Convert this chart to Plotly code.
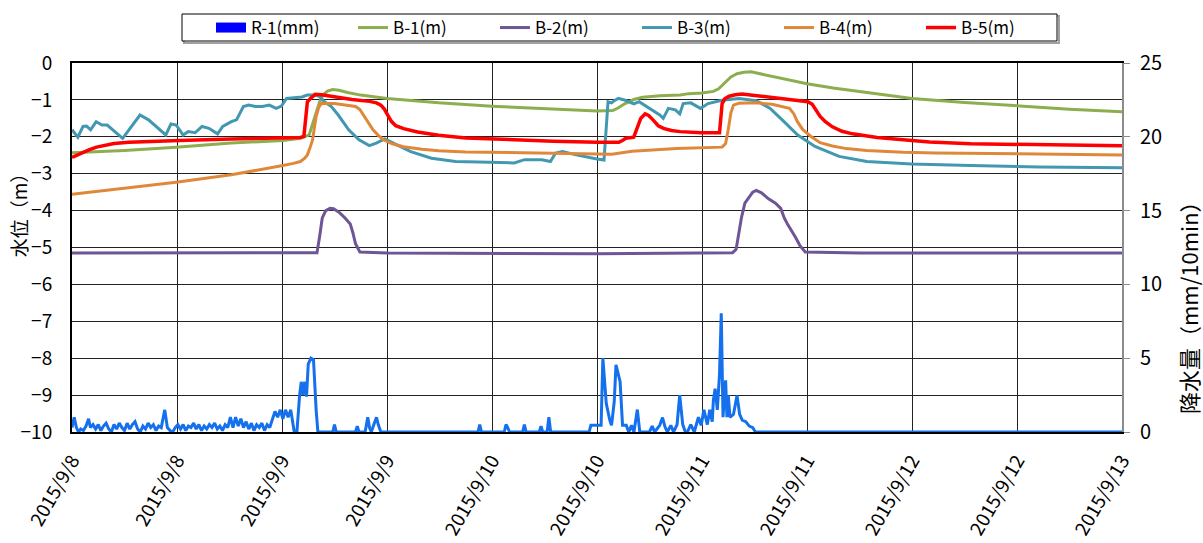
import pandas as pd
import plotly.graph_objects as go

# ---- data: elapsed hours from 2015-09-08 00:00 ----
START = pd.Timestamp("2015-09-08 00:00")

b1_h = [0.0, 6.0, 11.9, 18.2, 24.1, 26.1, 27.1, 27.5, 27.9, 28.3, 28.7, 29.2, 29.8, 30.5, 31.5,
        33.0, 36.0, 41.9, 48.0, 54.0, 60.0, 61.8, 62.4, 63.2, 64.2, 65.2, 67.2, 69.5, 70.5, 72.0,
        73.3, 73.9, 74.6, 75.3, 76.0, 76.8, 77.6, 78.6, 80.0, 82.0, 84.0, 87.0, 90.0, 96.0, 102.0,
        108.0, 114.0, 120.0]
b1_v = [-2.43, -2.37, -2.28, -2.17, -2.10, -2.04, -1.95, -1.65, -1.30, -1.05, -0.86, -0.76, -0.72,
        -0.74, -0.80, -0.87, -0.96, -1.08, -1.17, -1.24, -1.30, -1.29, -1.22, -1.10, -0.99, -0.93,
        -0.89, -0.87, -0.83, -0.81, -0.77, -0.70, -0.55, -0.38, -0.29, -0.25, -0.24, -0.29, -0.38,
        -0.47, -0.56, -0.68, -0.78, -0.96, -1.07, -1.17, -1.25, -1.32]

b2_h = [0.0, 28.0, 28.3, 28.6, 29.0, 29.5, 29.9, 30.6, 31.2, 31.8, 32.1, 32.4, 32.9, 36.0, 60.0,
        75.5, 75.9, 76.2, 76.5, 76.9, 77.4, 77.8, 78.2, 78.8, 79.6, 80.4, 81.0, 81.4, 81.8, 82.3,
        82.7, 83.2, 83.8, 90.0, 120.0]
b2_v = [-5.15, -5.14, -4.70, -4.20, -4.00, -3.94, -3.95, -4.06, -4.20, -4.36, -4.60, -4.90, -5.12,
        -5.15, -5.17, -5.14, -5.05, -4.60, -4.20, -3.80, -3.64, -3.50, -3.45, -3.52, -3.68, -3.80,
        -3.94, -4.20, -4.38, -4.56, -4.73, -4.95, -5.12, -5.15, -5.15]

b3_h = [0.0, 0.67, 1.26, 1.66, 2.13, 2.76, 3.43, 4.02, 5.79, 6.78, 7.77, 8.75, 10.72, 11.31, 11.90,
        12.69, 13.28, 14.07, 14.86, 15.65, 16.64, 17.23, 18.21, 18.80, 19.59, 20.18, 20.97, 21.76,
        22.55, 23.34, 23.93, 24.52, 25.70, 26.29, 26.88, 27.67, 28.26, 28.85, 29.64, 30.43, 31.62,
        32.80, 33.98, 34.77, 35.75, 37.13, 38.71, 41.08, 43.84, 47.78, 50.54, 51.72, 53.69, 54.68,
        55.27, 56.06, 57.63, 60.0, 60.8, 61.26, 61.66, 61.97, 62.44, 63.23, 64.22, 64.81, 65.99,
        67.17, 67.57, 68.16, 68.95, 69.46, 69.85, 70.72, 71.83, 72.69, 74.27, 76.24, 78.21, 79.79,
        81.37, 82.94, 84.91, 87.67, 90.83, 95.95, 102.65, 110.54, 120.0]
b3_v = [-1.81, -2.01, -1.72, -1.71, -1.81, -1.59, -1.68, -1.68, -2.04, -1.72, -1.41, -1.54, -1.95,
        -1.65, -1.68, -1.95, -1.86, -1.89, -1.72, -1.77, -1.92, -1.72, -1.59, -1.54, -1.18, -1.14,
        -1.18, -1.18, -1.14, -1.23, -1.17, -0.96, -0.93, -0.92, -0.87, -0.87, -0.90, -1.05, -1.18,
        -1.41, -1.81, -2.08, -2.24, -2.17, -2.06, -2.22, -2.40, -2.58, -2.67, -2.69, -2.71, -2.62,
        -2.62, -2.67, -2.44, -2.40, -2.49, -2.60, -2.63, -1.05, -1.08, -1.02, -0.96, -1.01, -1.11,
        -1.05, -1.23, -1.41, -1.50, -1.23, -1.27, -1.38, -1.10, -1.08, -1.23, -1.10, -1.01, -0.96,
        -1.02, -1.23, -1.59, -1.95, -2.26, -2.53, -2.67, -2.74, -2.78, -2.82, -2.84]

b4_h = [0.0, 6.0, 11.9, 18.2, 22.0, 24.1, 25.3, 26.1, 26.6, 26.9, 27.2, 27.5, 27.7, 27.9, 28.2,
        28.5, 30.0, 31.5, 32.4, 32.9, 33.4, 33.9, 34.4, 35.0, 35.6, 36.6, 37.9, 40.0, 41.9, 45.0,
        49.7, 55.0, 61.7, 64.0, 69.1, 74.3, 74.7, 75.0, 75.3, 75.6, 76.2, 78.2, 80.0, 82.0, 82.5,
        82.9, 83.5, 84.5, 85.5, 86.9, 88.5, 90.8, 95.0, 98.7, 108.0, 120.0]
b4_v = [-3.56, -3.40, -3.23, -3.03, -2.88, -2.78, -2.72, -2.67, -2.58, -2.49, -2.30, -2.08, -1.75,
        -1.45, -1.20, -1.10, -1.10, -1.14, -1.18, -1.26, -1.45, -1.65, -1.81, -1.96, -2.08, -2.19,
        -2.27, -2.34, -2.38, -2.41, -2.43, -2.45, -2.47, -2.39, -2.32, -2.28, -2.18, -1.80, -1.35,
        -1.14, -1.09, -1.08, -1.12, -1.23, -1.38, -1.59, -1.80, -2.00, -2.16, -2.25, -2.32, -2.37,
        -2.42, -2.44, -2.47, -2.49]

b5_h = [0.0, 0.6, 1.3, 2.0, 2.8, 3.8, 4.8, 6.5, 8.4, 12.3, 18.2, 24.0, 26.1, 26.5, 26.75, 26.9,
        27.3, 27.8, 28.5, 30.0, 32.0, 34.0, 34.8, 35.3, 35.7, 36.1, 36.5, 37.0, 37.9, 39.5, 41.9,
        45.0, 49.7, 55.0, 60.0, 62.5, 62.9, 63.3, 64.2, 64.6, 65.0, 65.5, 65.9, 66.4, 67.0, 67.6,
        68.5, 69.5, 71.9, 74.0, 74.15, 74.3, 74.6, 75.1, 75.8, 76.6, 78.0, 79.8, 82.0, 84.1, 84.6,
        85.0, 85.5, 86.1, 86.9, 88.0, 89.2, 92.0, 94.8, 98.0, 102.7, 110.0, 120.0]
b5_v = [-2.56, -2.49, -2.42, -2.35, -2.28, -2.22, -2.18, -2.15, -2.13, -2.10, -2.06, -2.03, -2.02,
        -1.99, -1.30, -1.05, -0.95, -0.85, -0.86, -0.92, -0.99, -1.04, -1.08, -1.14, -1.25, -1.42,
        -1.58, -1.70, -1.78, -1.87, -1.96, -2.03, -2.08, -2.12, -2.15, -2.15, -2.10, -2.04, -2.01,
        -1.75, -1.50, -1.38, -1.42, -1.54, -1.70, -1.77, -1.83, -1.86, -1.89, -1.89, -1.40, -1.10,
        -0.97, -0.90, -0.86, -0.84, -0.88, -0.93, -0.99, -1.05, -1.12, -1.25, -1.45, -1.59, -1.73,
        -1.85, -1.92, -2.02, -2.08, -2.14, -2.19, -2.22, -2.24]

# rainfall (mm/10min), first storm period 9/8 00:00 - 9/9 04:00
rain1_h = [0.0, 0.25, 0.5, 0.75, 1.0, 1.3, 1.6, 1.9, 2.1, 2.4,
           2.7, 3.0, 3.3, 3.6, 3.9, 4.2, 4.5, 4.8, 5.1, 5.4,
           5.7, 6.0, 6.3, 6.6, 6.9, 7.2, 7.5, 7.8, 8.1, 8.4,
           8.7, 9.0, 9.3, 9.6, 9.9, 10.2, 10.6, 10.9, 11.2, 11.5,
           11.8, 12.1, 12.4, 12.7, 13.0, 13.3, 13.6, 13.9, 14.2, 14.5,
           14.8, 15.1, 15.4, 15.7, 16.0, 16.3, 16.6, 16.9, 17.2, 17.5,
           17.8, 18.1, 18.4, 18.7, 19.0, 19.3, 19.6, 19.9, 20.2, 20.5,
           20.8, 21.1, 21.4, 21.7, 22.0, 22.3, 22.6, 22.9, 23.2, 23.5,
           23.8, 24.1, 24.4, 24.7, 25.0, 25.4, 25.7, 26.0, 26.2, 26.4,
           26.6, 26.8, 27.0, 27.3, 27.6, 27.9, 28.1]
rain1_v = [0.3, 1.0, 0.3, 0.0, 0.2, 0.1, 0.4, 0.9, 0.3, 0.5,
           0.2, 0.5, 0.1, 0.4, 0.6, 0.2, 0.0, 0.5, 0.2, 0.6,
           0.3, 0.1, 0.6, 0.2, 0.5, 0.7, 0.2, 0.0, 0.4, 0.2,
           0.6, 0.3, 0.5, 0.1, 0.4, 0.3, 1.5, 0.3, 0.1, 0.0,
           0.3, 0.5, 0.2, 0.5, 0.1, 0.4, 0.3, 0.6, 0.2, 0.5,
           0.1, 0.4, 0.2, 0.5, 0.3, 0.6, 0.2, 0.4, 0.1, 0.5,
           0.3, 1.0, 0.3, 1.0, 0.4, 0.9, 0.3, 0.7, 0.2, 0.6,
           0.1, 0.5, 0.3, 0.6, 0.1, 0.5, 0.3, 0.8, 1.4, 1.0,
           1.5, 0.9, 1.5, 1.0, 1.5, 0.0, 0.0, 2.4, 3.4, 2.5,
           3.4, 2.4, 4.6, 5.0, 4.9, 1.5, 0.0]

# scattered light showers 9/9 - 9/10
rain2_h = [29.8, 30.0, 30.2, 32.4, 32.6, 32.8, 33.5, 33.8, 34.0, 34.2,
           34.5, 34.8, 35.0, 35.3, 46.4, 46.6, 46.8, 49.4, 49.6, 49.8,
           50.0, 51.5, 51.7, 51.9, 53.4, 53.6, 53.8, 54.3, 54.5, 54.7]
rain2_v = [0.0, 0.5, 0.0, 0.0, 0.4, 0.0, 0.0, 1.0, 0.3, 0.0,
           0.5, 1.0, 0.5, 0.0, 0.0, 0.5, 0.0, 0.0, 0.5, 0.3,
           0.0, 0.0, 0.5, 0.0, 0.0, 0.4, 0.0, 0.0, 1.0, 0.0]

# second storm period 9/10 11:00 - 9/11 06:00, then dry
rain3_h = [59.1, 59.3, 59.6, 60.0, 60.47, 60.67, 61.06, 61.46, 61.66, 61.97,
           62.17, 62.64, 62.92, 63.35, 63.63, 63.94, 64.22, 64.61, 64.89, 65.99,
           66.31, 66.58, 67.17, 67.49, 67.77, 68.04, 68.44, 68.75, 69.15, 69.45,
           69.8, 70.1, 70.33, 70.72, 71.12, 71.59, 71.9, 72.22, 72.61, 72.89,
           73.17, 73.3, 73.5, 73.75, 74.0, 74.2, 74.4, 74.7, 74.85, 75.0,
           75.2, 75.6, 76.0, 76.3, 76.6, 77.0, 77.4, 77.8, 78.1, 120.0]
rain3_v = [0.0, 0.45, 0.45, 0.45, 0.45, 5.0, 1.93, 0.8, 0.45, 2.05,
           4.55, 3.41, 0.45, 0.45, 0.0, 0.45, 0.0, 1.52, 0.0, 0.0,
           0.4, 0.0, 0.45, 0.98, 0.35, 0.0, 0.45, 0.0, 0.5, 2.5,
           0.5, 0.0, 0.0, 0.5, 0.0, 1.0, 0.45, 1.5, 0.5, 1.5,
           0.7, 2.15, 2.94, 1.5, 3.9, 8.05, 1.0, 3.5, 1.0, 2.48,
           1.0, 1.2, 2.48, 1.2, 0.8, 0.7, 0.4, 0.3, 0.0, 0.0]

rain_h = rain1_h + rain2_h + rain3_h
rain_v = rain1_v + rain2_v + rain3_v

TICK_HOURS = list(range(0, 121, 12))
TICK_TEXT = ["2015/9/8", "2015/9/8", "2015/9/9", "2015/9/9", "2015/9/10", "2015/9/10",
             "2015/9/11", "2015/9/11", "2015/9/12", "2015/9/12", "2015/9/13"]


def to_time(hours):
    return [START + pd.Timedelta(hours=h) for h in hours]


FONT = "Noto Sans CJK JP"

series = [
    ("B-1(m)", b1_h, b1_v, "#8DAE4E", 3),
    ("B-2(m)", b2_h, b2_v, "#6E5596", 3),
    ("B-3(m)", b3_h, b3_v, "#4198B0", 3),
    ("B-4(m)", b4_h, b4_v, "#E0883A", 3),
    ("B-5(m)", b5_h, b5_v, "#FF0000", 3.5),
]

fig = go.Figure()

# legend entry for rainfall (filled blue box)
fig.add_trace(go.Scatter(x=[None], y=[None], mode="lines", name="R-1(mm)",
                         line=dict(color="#0000FF", width=10), yaxis="y2"))

# rainfall line on the right axis
fig.add_trace(go.Scatter(x=to_time(rain_h), y=rain_v, mode="lines", name="R-1(mm)",
                         line=dict(color="#1470EC", width=3), yaxis="y2", showlegend=False))

for name, hh, vv, col, lw in series:
    fig.add_trace(go.Scatter(x=to_time(hh), y=vv, mode="lines", name=name,
                             line=dict(color=col, width=lw), yaxis="y"))

fig.update_layout(
    width=1203, height=543,
    margin=dict(l=72, r=81, t=63, b=111, autoexpand=False),
    paper_bgcolor="white", plot_bgcolor="white",
    font=dict(family=FONT, size=18, color="black"),
    showlegend=True,
    legend=dict(orientation="h", xref="container", yref="container",
                x=211 / 1203, y=1 - 10 / 543, xanchor="left", yanchor="top",
                borderwidth=0, bgcolor="rgba(0,0,0,0)",
                font=dict(family=FONT, size=17), entrywidth=97, traceorder="normal",
                itemwidth=30),
    xaxis=dict(
        type="date", automargin=False,
        range=[START, START + pd.Timedelta(hours=120)],
        tickvals=to_time(TICK_HOURS), ticktext=TICK_TEXT, tickangle=-60,
        showgrid=True, gridcolor="#222222", gridwidth=1,
        showline=True, linecolor="black", linewidth=2, mirror=True,
        ticks="", ticklabelstandoff=8, tickfont=dict(family=FONT, size=19), zeroline=False,
    ),
    yaxis=dict(
        range=[-10, 0], dtick=1, tick0=0, automargin=False,
        showgrid=True, gridcolor="#222222", gridwidth=1,
        showline=True, linecolor="black", linewidth=2,
        ticks="", ticklabelstandoff=14, tickfont=dict(family=FONT, size=19), zeroline=False,
    ),
    yaxis2=dict(
        range=[0, 25], dtick=5, tick0=0, overlaying="y", side="right", automargin=False,
        showgrid=False, showline=True, linecolor="#8C8C8C", linewidth=2,
        ticks="outside", ticklen=6, tickcolor="#8C8C8C", ticklabelstandoff=6,
        tickfont=dict(family=FONT, size=20), zeroline=False,
    ),
    shapes=[
        # legend frame with a soft shadow edge
        dict(type="rect", xref="paper", yref="paper",
             x0=(184 - 72) / 1050, x1=(1059 - 72) / 1050,
             y0=(432 - 43) / 369, y1=(432 - 16) / 369,
             line=dict(color="#A0A0A0", width=2), fillcolor="rgba(0,0,0,0)", layer="below"),
        dict(type="rect", xref="paper", yref="paper",
             x0=(182 - 72) / 1050, x1=(1057 - 72) / 1050,
             y0=(432 - 41) / 369, y1=(432 - 14) / 369,
             line=dict(color="black", width=1), fillcolor="white", layer="below"),
    ],
    annotations=[
        dict(text="水位（m）", xref="paper", yref="paper", x=-0.051, y=0.602,
             textangle=-90, showarrow=False, font=dict(family=FONT, size=19),
             xanchor="center", yanchor="middle"),
        dict(text="降水量（mm/10min）", xref="paper", yref="paper", x=1.0628, y=0.352,
             textangle=-90, showarrow=False, font=dict(family=FONT, size=22),
             xanchor="center", yanchor="middle"),
    ],
)

fig.write_html("out.html")
